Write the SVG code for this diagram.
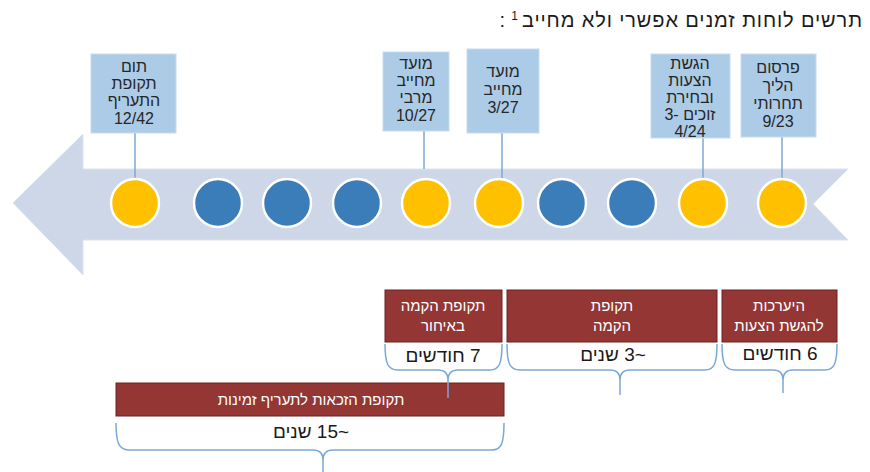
<svg xmlns="http://www.w3.org/2000/svg" width="870" height="472" viewBox="0 0 870 472">
<style>
text{font-family:"Liberation Sans","DejaVu Sans",Arial,sans-serif;}
.bt{font-size:16px;fill:#262626;text-anchor:middle;}
.rt{font-size:15px;fill:#ffffff;text-anchor:middle;}
.dt{font-size:19px;fill:#1a1a1a;text-anchor:middle;direction:rtl;unicode-bidi:embed;}
.bx{fill:#abcbe7;stroke:#c9dcef;stroke-width:1;}
.rb{fill:#943634;stroke:#6a2422;stroke-width:1;}
.yc{fill:#ffc000;stroke:#ffffff;stroke-width:2.5;}
.bc{fill:#3a7db8;stroke:#ffffff;stroke-width:2.5;}
.cn{stroke:#7ea8d2;stroke-width:1.5;fill:none;}
.br{stroke:#7aa8d6;stroke-width:1.5;fill:none;}
</style>
<rect width="870" height="472" fill="#ffffff"/>
<g id="title">
<text x="862" y="27" font-size="20" fill="#1a1a1a" text-anchor="end" textLength="340" lengthAdjust="spacing">תרשים לוחות זמנים אפשרי ולא מחייב</text>
<text x="518" y="20" font-size="12" fill="#1a1a1a" text-anchor="end">1</text>
<text x="505" y="27" font-size="20" fill="#1a1a1a" text-anchor="end">:</text>
</g>
<g id="timeline-arrow">
<polygon points="13,203 83,134 83,169 848,169 813,204 848,240 83,240 83,275" fill="#cdd7e7" stroke="#dbe3ee" stroke-width="1"/>
</g>
<g id="connectors">
<line class="cn" x1="135" y1="133" x2="135" y2="178"/>
<line class="cn" x1="424" y1="131" x2="424" y2="169"/>
<line class="cn" x1="502" y1="133" x2="502" y2="178"/>
<line class="cn" x1="703" y1="138" x2="703" y2="178"/>
<line class="cn" x1="782" y1="137" x2="782" y2="178"/>
</g>
<g id="milestones">
<circle class="yc" cx="135" cy="203" r="24"/>
<circle class="bc" cx="218" cy="203" r="24"/>
<circle class="bc" cx="287" cy="203" r="24"/>
<circle class="bc" cx="357" cy="203" r="24"/>
<circle class="yc" cx="426" cy="203" r="24"/>
<circle class="yc" cx="499" cy="203" r="24"/>
<circle class="bc" cx="562" cy="203" r="24"/>
<circle class="bc" cx="632" cy="203" r="24"/>
<circle class="yc" cx="703" cy="203" r="24"/>
<circle class="yc" cx="782" cy="203" r="24"/>
</g>
<g id="node-end-tariff">
<rect class="bx" x="91" y="54" width="85" height="79"/>
<text class="bt" x="134" y="72">תום</text>
<text class="bt" x="134" y="89">תקופת</text>
<text class="bt" x="134" y="106">התעריף</text>
<text class="bt" x="134" y="124">12/42</text>
</g>
<g id="node-max-deadline">
<rect class="bx" x="383" y="52" width="66" height="79"/>
<text class="bt" x="416" y="69">מועד</text>
<text class="bt" x="416" y="86">מחייב</text>
<text class="bt" x="416" y="103">מרבי</text>
<text class="bt" x="416" y="121">10/27</text>
</g>
<g id="node-deadline">
<rect class="bx" x="467" y="49" width="72" height="84"/>
<text class="bt" x="503" y="77">מועד</text>
<text class="bt" x="503" y="95">מחייב</text>
<text class="bt" x="503" y="113">3/27</text>
</g>
<g id="node-bids">
<rect class="bx" x="651" y="54" width="79" height="84"/>
<text class="bt" x="690" y="69">הגשת</text>
<text class="bt" x="690" y="86">הצעות</text>
<text class="bt" x="690" y="103">ובחירת</text>
<text class="bt" x="690" y="120">3- זוכים</text>
<text class="bt" x="690" y="137">4/24</text>
</g>
<g id="node-publish">
<rect class="bx" x="741" y="54" width="75" height="83"/>
<text class="bt" x="778" y="73">פרסום</text>
<text class="bt" x="778" y="91">הליך</text>
<text class="bt" x="778" y="109">תחרותי</text>
<text class="bt" x="778" y="127">9/23</text>
</g>
<g id="period-late-build">
<rect class="rb" x="385" y="290" width="117" height="52"/>
<text class="rt" x="443" y="311">תקופת הקמה</text>
<text class="rt" x="443" y="331">באיחור</text>
<text class="dt" x="443" y="362">7 חודשים</text>
</g>
<g id="period-build">
<rect class="rb" x="507" y="290" width="210" height="52"/>
<text class="rt" x="612" y="311">תקופת</text>
<text class="rt" x="612" y="331">הקמה</text>
<text class="dt" x="613" y="361">~3 שנים</text>
</g>
<g id="period-prep">
<rect class="rb" x="722" y="290" width="115" height="52"/>
<text class="rt" x="779" y="311">היערכות</text>
<text class="rt" x="779" y="331">להגשת הצעות</text>
<text class="dt" x="780" y="360">6 חודשים</text>
</g>
<g id="period-eligibility">
<rect class="rb" x="116" y="383" width="388" height="33"/>
<text class="rt" x="311" y="405">תקופת הזכאות לתעריף זמינות</text>
<text class="dt" x="311" y="438">~15 שנים</text>
</g>
<g id="braces">
<path class="br" d="M385,344 C385,364 388,370 398,370 L438,370 C445,370 448,373 448,380 L448,398 M448,380 C448,373 451,370 458,370 L490,370 C499,370 502,364 502,344"/>
<path class="br" d="M507,344 C507,364 510,370 520,370 L610,370 C617,370 620,373 620,380 L620,395 M620,380 C620,373 623,370 630,370 L705,370 C714,370 717,364 717,344"/>
<path class="br" d="M722,344 C722,364 725,370 735,370 L773,370 C780,370 783,373 783,380 L783,393 M783,380 C783,373 786,370 793,370 L825,370 C834,370 837,364 837,344"/>
<path class="br" d="M116,423 C116,444 119,450 130,450 L313,450 C320,450 323,453 323,460 L323,472 M323,460 C323,453 326,450 333,450 L492,450 C501,450 504,444 504,423"/>
</g>
</svg>
